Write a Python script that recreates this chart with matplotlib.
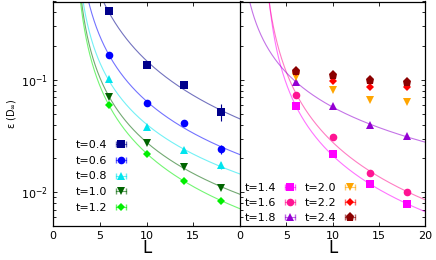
import numpy as np
import matplotlib
matplotlib.use("Agg")
import matplotlib.pyplot as plt
from matplotlib.lines import Line2D
from matplotlib.legend_handler import HandlerLine2D

L = [6, 10, 14, 18]

# left panel
t_left = ["t=0.4", "t=0.6", "t=0.8", "t=1.0", "t=1.2"]
eps_04 = [0.408, 0.136, 0.090, 0.052]
eps_06 = [0.167, 0.0618, 0.041, 0.0241]
eps_08 = [0.101, 0.0382, 0.0240, 0.0174]
eps_10 = [0.071, 0.0275, 0.0168, 0.0110]
eps_12 = [0.0593, 0.0220, 0.0127, 0.00836]
err_04 = [0.004, 0.004, 0.006, 0.009]
err_06 = [0.002, 0.001, 0.001, 0.002]
err_08 = [0.001, 0.0005, 0.0005, 0.0012]
err_10 = [0.0005, 0.0003, 0.0003, 0.0004]
err_12 = [0.0005, 0.0003, 0.0002, 0.0002]

# right panel
t_right = ["t=1.4", "t=1.6", "t=1.8", "t=2.0", "t=2.2", "t=2.4"]
eps_14 = [0.0585, 0.0220, 0.0119, 0.0078]
eps_16 = [0.074, 0.0311, 0.0148, 0.0100]
eps_18 = [0.0966, 0.0585, 0.0393, 0.0317]
eps_20 = [0.107, 0.0814, 0.066, 0.0636]
eps_22 = [0.118, 0.098, 0.086, 0.086]
eps_24 = [0.120, 0.111, 0.100, 0.0966]
err_small = [0.0005, 0.0004, 0.0003, 0.0003]

# fit offset L0 in eps = a (L - L0)^-p  (None: no fit curve)
fit_L0_left = [1.6, 2.07, 2.2, 2.22, 2.1]
fit_L0_right = [2.4, 2.05, -0.3, None, None, None]

left_series = [
    (eps_04, err_04, "#00008b", "s", 5.5),
    (eps_06, err_06, "#0000ff", "o", 5.5),
    (eps_08, err_08, "#00e5ee", "^", 5.5),
    (eps_10, err_10, "#006400", "v", 5.5),
    (eps_12, err_12, "#00ee00", "D", 4.5),
]
right_series = [
    (eps_14, err_small, "#ff00ff", "s", 5.5),
    (eps_16, err_small, "#ff1493", "o", 5.5),
    (eps_18, err_small, "#9400d3", "^", 5.5),
    (eps_20, err_small, "#ffa500", "v", 5.5),
    (eps_22, err_small, "#ff0000", "D", 4.5),
    (eps_24, err_small, "#8b0000", "p", 6.5),
]


def fit_curve(x, y, L0):
    x = np.asarray(x, float)
    lx = np.log(x - L0)
    p = np.polyfit(lx, np.log(np.asarray(y, float)), 1)
    xs = np.linspace(L0 + 0.05, 20, 800)
    xs = xs[xs > 0]
    return xs, np.exp(np.polyval(p, np.log(xs - L0)))


fig = plt.figure(figsize=(4.36, 2.6), dpi=100)
axL = fig.add_axes([53 / 436, 1 - 226 / 260, 187 / 436, 224.5 / 260])
axR = fig.add_axes([240 / 436, 1 - 226 / 260, 185 / 436, 224.5 / 260])


def draw(ax, series, labels, offsets):
    handles = []
    hmap = {}
    for (y, e, c, m, ms), lab, L0 in zip(series, labels, offsets):
        if L0 is not None:
            xs, ys = fit_curve(L, y, L0)
            ax.plot(xs, ys, color=c, lw=0.8, alpha=0.55, zorder=2)
        ax.errorbar(L, y, yerr=e, fmt=m, color=c, ms=ms, elinewidth=0.8,
                    ecolor=c, capsize=1.5, zorder=3, mew=0)
        caps = Line2D([], [], color=c, lw=0.8, alpha=0.6, marker="|", ms=4)
        mk = Line2D([], [], color=c, marker=m, ms=ms, ls="none", mew=0)
        hmap[caps] = HandlerLine2D(numpoints=2)
        hmap[mk] = HandlerLine2D(numpoints=1)
        handles.append((caps, mk))
    return handles, hmap


hL, mL = draw(axL, left_series, t_left, fit_L0_left)
hR, mR = draw(axR, right_series, t_right, fit_L0_right)

for ax in (axL, axR):
    ax.set_yscale("log")
    ax.set_ylim(0.005, 0.5)
    ax.set_xlim(0, 20)
    ax.set_xticks([0, 5, 10, 15, 20])
    ax.tick_params(which="both", direction="in", top=True, right=True,
                   labelsize=8, width=0.6)
    ax.tick_params(which="major", length=3)
    ax.tick_params(which="minor", length=2)
    ax.set_xlabel("L", fontsize=12, labelpad=-1)
    for s in ax.spines.values():
        s.set_linewidth(0.9)

axL.set_xticklabels(["0", "5", "10", "15", ""])
axR.tick_params(labelleft=False)
axL.tick_params(which="both", right=False)
axL.set_ylabel(r"ε (D$_\infty$)", fontsize=7, labelpad=2)
axL.spines["right"].set_visible(False)

axL.legend(hL, t_left, handler_map=mL, loc="lower left",
           bbox_to_anchor=(0.08, 0.025), markerfirst=False, frameon=False,
           fontsize=8, handlelength=1.5, handletextpad=0.5,
           labelspacing=0.5, borderpad=0.2)
axR.legend(hR, t_right, handler_map=mR, loc="lower left",
           bbox_to_anchor=(-0.015, -0.02), markerfirst=False, frameon=False,
           fontsize=8, handlelength=1.5, handletextpad=0.5, ncol=2,
           labelspacing=0.45, columnspacing=0.5, borderpad=0.2)

fig.savefig("out.png", dpi=100)
